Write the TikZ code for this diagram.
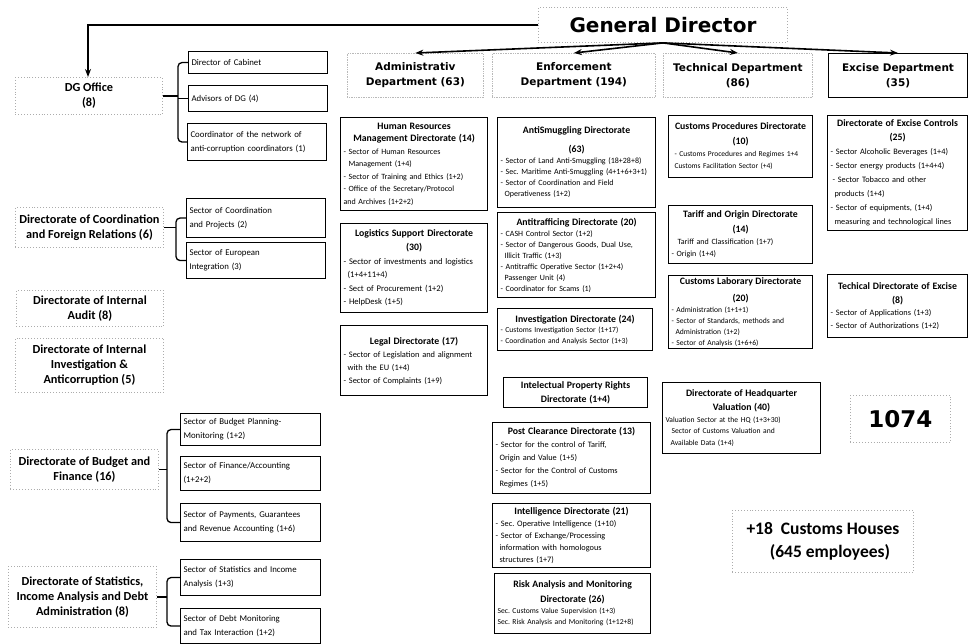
\documentclass[tikz,border=0pt]{standalone}
\usepackage{fontspec}
\setmainfont{Carlito}
\newfontfamily\vf{DejaVu Sans}
\usetikzlibrary{arrows.meta}
\frenchspacing
\newcommand\dtl[2][12.5]{{\centering\bfseries\fontsize{9.8}{#1}\selectfont #2\par}}
\begin{document}
\begin{tikzpicture}[x=1pt,y=-1pt,
  sbox/.style={draw=black, line width=1.1pt, inner xsep=3pt, inner ysep=2pt, anchor=north west, align=left, font=\fontsize{8}{11}\selectfont},
  lbox/.style={sbox, font=\fontsize{8.8}{14}\selectfont},
  dbox/.style={draw=gray!65, dotted, line width=0.9pt, anchor=north west, align=center, inner sep=2pt, font=\bfseries\fontsize{12.3}{15}\selectfont},
  dept/.style={draw=gray!55, densely dotted, line width=0.7pt, anchor=north west, align=center, inner sep=2pt, font=\vf\bfseries\fontsize{10.5}{15}\selectfont},
  wh/.style 2 args={text width=#1pt, minimum height=#2pt},
  mwh/.style 2 args={minimum width=#1pt, minimum height=#2pt},
  link/.style={line width=1.3pt},
  arr/.style={line width=1.6pt, -{Stealth[length=8pt,width=6pt]}}
]
\useasboundingbox (0,0) rectangle (969,644);

% top
\node[dbox, mwh={249}{35}, font=\vf\bfseries\fontsize{20}{24}\selectfont] (gd) at (538,7) {General Director};

% departments
\node[dept, mwh={136}{44}] (adm) at (347,53) {Administrativ\\Department (63)};
\node[dept, mwh={163}{44}] (enf) at (492,53) {Enforcement\\Department (194)};
\node[dept, mwh={149}{44}] (tec) at (663,53) {Technical Department\\(86)};
\node[dept, draw=black, solid, line width=1pt, mwh={139}{44}] (exc) at (828,53) {Excise Department\\(35)};

\draw[arr] (gd.west) -| (88,77);
\draw[arr] (gd.south) -- (adm.north);
\draw[arr] (gd.south) -- (enf.north);
\draw[arr] (gd.south) -- (tec.north);
\draw[arr] (gd.south) -- (exc.north);

% left column
\node[dbox, mwh={147}{37}] (dgo) at (15,77) {DG Office\\(8)};
\node[lbox, wh={133}{22}] (cab) at (188,51) {Director of Cabinet};
\node[lbox, wh={133}{26}] (adv) at (188,85) {Advisors of DG (4)};
\node[lbox, wh={133}{37}] (crd) at (187,123) {Coordinator of the network of\\anti-corruption coordinators (1)};
\path (cab.west) ++(-10,0) coordinate (b1);
\draw[link, rounded corners=4pt] (cab.west) -- (b1) |- (crd.west);
\draw[link] (adv.west) -- (adv.west -| b1);
\draw[link] (dgo.east) -- (dgo.east -| b1);

\node[dbox, mwh={148}{40}] (dcf) at (15,207) {Directorate of Coordination\\and Foreign Relations (6)};
\node[lbox, wh={133}{39}] (scp) at (186,198) {Sector of Coordination\\and Projects (2)};
\node[lbox, wh={133}{36}] (sei) at (186,242) {Sector of European\\Integration (3)};
\path (scp.west) ++(-10,0) coordinate (b2);
\draw[link, rounded corners=4pt] (scp.west) -- (b2) |- (sei.west);
\draw[link] (dcf.east) -- (dcf.east -| b2);

\node[dbox, mwh={147}{36}] (dia) at (16,290) {Directorate of Internal\\Audit (8)};
\node[dbox, mwh={148}{54}] (dii) at (15,338) {Directorate of Internal\\Investigation \&\\Anticorruption (5)};

\node[dbox, mwh={148}{40}] (dbf) at (10,449) {Directorate of Budget and\\Finance (16)};
\node[lbox, wh={134}{32}] (sbp) at (180,413) {Sector of Budget Planning-\\Monitoring (1+2)};
\node[lbox, wh={134}{34}] (sfa) at (180,456) {Sector of Finance/Accounting\\(1+2+2)};
\node[lbox, wh={134}{38}] (spg) at (180,503) {Sector of Payments, Guarantees\\and Revenue Accounting (1+6)};
\path (sbp.west) ++(-13,0) coordinate (b3);
\draw[link, rounded corners=4pt] (sbp.west) -- (b3) |- (spg.west);
\draw[link] (dbf.east) -- (dbf.east -| b3);

\node[dbox, mwh={148}{61}] (dsi) at (8,566) {Directorate of Statistics,\\Income Analysis and Debt\\Administration (8)};
\node[lbox, wh={134}{36}] (ssi) at (180,559) {Sector of Statistics and Income\\Analysis (1+3)};
\node[lbox, wh={134}{35}] (sdm) at (180,608) {Sector of Debt Monitoring\\and Tax Interaction (1+2)};
\path (ssi.west) ++(-13,0) coordinate (b4);
\draw[link, rounded corners=4pt] (ssi.west) -- (b4) |- (sdm.west);
\draw[link] (dsi.east) -- (dsi.east -| b4);

% administrative column
\node[sbox, wh={141}{93}, font=\fontsize{8}{12.5}\selectfont] (hr) at (340,117) {\dtl{Human Resources\\Management Directorate (14)}
- Sector of Human Resources\\
\hspace*{5pt}Management (1+4)\\
- Sector of Training and Ethics (1+2)\\
- Office of the Secretary/Protocol\\
and Archives (1+2+2)};
\node[sbox, wh={141}{89}, font=\fontsize{8.6}{13.5}\selectfont] (lgs) at (340,223) {\dtl[14]{Logistics Support Directorate\\(30)}
- Sector of investments and logistics\\
\hspace*{4pt}(1+4+11+4)\\
- Sect of Procurement (1+2)\\
- HelpDesk (1+5)};
\node[sbox, wh={141}{70}, font=\fontsize{8.4}{13}\selectfont] (leg) at (340,325) {\dtl{Legal Directorate (17)}
- Sector of Legislation and alignment\\
\hspace*{4pt}with the EU (1+4)\\
- Sector of Complaints (1+9)};

% enforcement column
\node[sbox, wh={152}{90}] (ans) at (497,117) {\dtl[19]{AntiSmuggling Directorate\\(63)}
- Sector of Land Anti-Smuggling (18+28+8)\\
- Sec. Maritime Anti-Smuggling (4+1+6+3+1)\\
- Sector of Coordination and Field\\
\hspace*{4pt}Operativeness (1+2)};
\node[sbox, wh={152}{85}] (ant) at (497,212) {\dtl{Antitrafficing Directorate (20)}
- CASH Control Sector (1+2)\\
- Sector of Dangerous Goods, Dual Use,\\
\hspace*{4pt}Illicit Traffic (1+3)\\
- Antitraffic Operative Sector (1+2+4)\\
\hspace*{4pt}Passenger Unit (4)\\
- Coordinator for Scams (1)};
\node[sbox, wh={149}{42}, font=\fontsize{7.6}{10.5}\selectfont] (inv) at (497,308) {\dtl{Investigation Directorate (24)}
- Customs Investigation Sector (1+17)\\
- Coordination and Analysis Sector (1+3)};
\node[sbox, wh={138}{30}] (ipr) at (503,377) {\dtl[14]{Intelectual Property Rights\\Directorate (1+4)}};
\node[sbox, wh={152}{71}, font=\fontsize{8.3}{13}\selectfont] (pcd) at (492,422) {\dtl{Post Clearance Directorate (13)}
- Sector for the control of Tariff,\\
\hspace*{4pt}Origin and Value (1+5)\\
- Sector for the Control of Customs\\
\hspace*{4pt}Regimes (1+5)};
\node[sbox, wh={152}{64}, font=\fontsize{8.3}{12}\selectfont] (itl) at (492,503) {\dtl[13]{Intelligence Directorate (21)}
- Sec. Operative Intelligence (1+10)\\
- Sector of Exchange/Processing\\
\hspace*{4pt}information with homologous\\
\hspace*{4pt}structures (1+7)};
\node[sbox, wh={150}{60}, font=\fontsize{7.6}{11}\selectfont] (ram) at (494,573) {\dtl[15]{Risk Analysis and Monitoring\\Directorate (26)}
Sec. Customs Value Supervision (1+3)\\
Sec. Risk Analysis and Monitoring (1+12+8)};

% technical column
\node[sbox, wh={138}{62}, font=\fontsize{7.5}{12}\selectfont] (cpd) at (668,115) {\dtl[15]{Customs Procedures Directorate\\(10)}
\hspace*{3pt}- Customs Procedures and Regimes 1+4\\
\hspace*{3pt}Customs Facilitation Sector (+4)};
\node[sbox, wh={138}{58}, font=\fontsize{8}{12}\selectfont] (tod) at (668,205) {\dtl[15]{Tariff and Origin Directorate\\(14)}
\hspace*{6pt}Tariff and Classification (1+7)\\
- Origin (1+4)};
\node[sbox, wh={138}{72}, font=\fontsize{7.6}{11}\selectfont] (cld) at (668,275) {\dtl[17]{Customs Laborary Directorate\\(20)}
- Administration (1+1+1)\\
- Sector of Standards, methods and\\
\hspace*{4pt}Administration (1+2)\\
- Sector of Analysis (1+6+6)};
\node[sbox, wh={152}{71}, font=\fontsize{7.6}{11.5}\selectfont] (hqv) at (662,382) {\dtl[14]{Directorate of Headquarter\\Valuation (40)}
Valuation Sector at the HQ (1+3+30)\\
\hspace*{6pt}Sector of Customs Valuation and\\
\hspace*{5pt}Available Data (1+4)};

% excise column
\node[sbox, wh={134}{115}, font=\fontsize{8.3}{14}\selectfont] (edc) at (827,115) {\dtl[14]{Directorate of Excise Controls\\(25)}
- Sector Alcoholic Beverages (1+4)\\
- Sector energy products (1+4+4)\\
\hspace*{2pt}- Sector Tobacco and other\\
\hspace*{4pt}products (1+4)\\
- Sector of equipments, (1+4)\\
\hspace*{4pt}measuring and technological lines};
\node[sbox, wh={134}{63}, font=\fontsize{8.3}{12.5}\selectfont] (tde) at (827,274) {\dtl[14]{Techical Directorate of Excise\\(8)}
- Sector of Applications (1+3)\\
- Sector of Authorizations (1+2)};

% totals
\node[dbox, mwh={100}{47}, font=\vf\bfseries\fontsize{23}{26}\selectfont] (tot) at (850,395) {1074};
\node[dbox, mwh={181}{62}, font=\bfseries\fontsize{17.5}{23}\selectfont] (chs) at (732,510) {+18~~Customs Houses\\\hspace*{14pt}(645 employees)};
\end{tikzpicture}
\end{document}
